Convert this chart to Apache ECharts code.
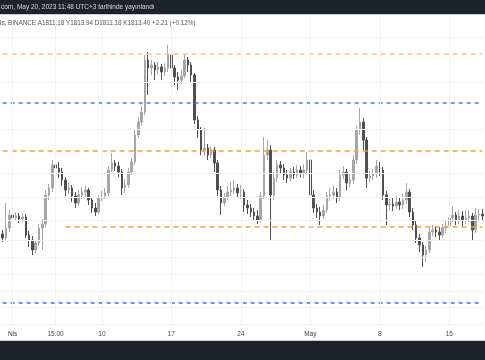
<!DOCTYPE html>
<html><head><meta charset="utf-8">
<script src="https://cdn.jsdelivr.net/npm/echarts@6/dist/echarts.min.js"></script>
<style>html,body{margin:0;padding:0;background:#fff}#c{width:485px;height:360px}</style>
</head><body><div id="c"></div>
<script>
// 8-hour candles starting 2023-03-31 00:00
const startTime = Date.UTC(2023, 2, 31, 0, 0);
const candleCount = 146;
const categories = [];
for (let i = 0; i < candleCount; i++) {
  const d = new Date(startTime + i * 8 * 3600e3);
  const p = n => String(n).padStart(2, '0');
  categories.push(p(d.getUTCMonth() + 1) + '-' + p(d.getUTCDate()) + ' ' + p(d.getUTCHours()) + ':00');
}
const tickDates = ['04-01 00:00','04-05 08:00','04-10 00:00','04-17 00:00','04-24 00:00','05-01 00:00','05-08 00:00','05-15 00:00'];
const tickTexts = ['Nis','15:00','10','17','24','May','8','15'];

const open = [1766,1758,1778,1804,1798,1802,1796,1800,1764,1754,
1734,1748,1778,1786,1844,1858,1904,1898,1890,1874,
1854,1858,1842,1828,1844,1850,1854,1834,1818,1810,
1838,1842,1848,1894,1908,1902,1890,1858,1864,1890,
1910,1964,1990,2010,2114,2098,2104,2094,2100,2090,
2098,2124,2098,2080,2074,2082,2114,2104,2084,1994,
1974,1934,1938,1924,1934,1908,1854,1828,1840,1850,
1854,1858,1848,1850,1824,1818,1810,1802,1794,1842,
1924,1934,1844,1878,1904,1898,1884,1878,1890,1884,
1894,1888,1894,1914,1844,1818,1810,1802,1814,1842,
1844,1850,1838,1884,1890,1868,1874,1914,1974,1990,
1954,1878,1882,1886,1902,1894,1844,1824,1826,1822,
1830,1824,1834,1850,1810,1784,1758,1744,1724,1734,
1770,1774,1770,1764,1778,1782,1798,1804,1794,1802,
1794,1798,1802,1774,1804,1806];
const close = [1758,1778,1804,1798,1802,1796,1800,1764,1754,1734,
1748,1778,1786,1844,1858,1904,1898,1890,1874,1854,
1858,1842,1828,1844,1850,1854,1834,1818,1810,1838,
1842,1848,1894,1908,1902,1890,1858,1864,1890,1910,
1964,1990,2010,2114,2098,2104,2094,2100,2090,2098,
2124,2098,2080,2074,2082,2114,2104,2084,1994,1974,
1934,1938,1924,1934,1908,1854,1828,1840,1850,1854,
1858,1848,1850,1824,1818,1810,1802,1794,1842,1924,
1934,1844,1878,1904,1898,1884,1878,1890,1884,1894,
1888,1894,1914,1844,1818,1810,1802,1814,1842,1844,
1850,1838,1884,1890,1868,1874,1914,1974,1990,1954,
1878,1882,1886,1902,1894,1844,1824,1826,1822,1830,
1824,1834,1850,1810,1784,1758,1744,1724,1734,1770,
1774,1770,1764,1778,1782,1798,1804,1794,1802,1794,
1798,1802,1774,1804,1806,1802];
const high = [1774,1828,1814,1812,1810,1808,1808,1806,1772,1762,
1754,1786,1796,1854,1866,1914,1934,1910,1898,1880,
1868,1864,1850,1854,1860,1862,1858,1840,1828,1844,
1852,1858,1902,1928,1914,1910,1896,1876,1898,1918,
1974,2000,2022,2124,2130,2114,2110,2110,2106,2108,
2144,2130,2104,2090,2094,2124,2120,2110,2088,2002,
1980,1978,1946,1942,1940,1914,1862,1848,1862,1870,
1874,1866,1864,1856,1834,1826,1818,1814,1850,1960,
1954,1944,1890,1914,1912,1906,1894,1898,1900,1904,
1902,1906,1930,1920,1854,1826,1820,1824,1850,1858,
1862,1858,1894,1902,1896,1886,1924,1984,2018,1998,
1960,1892,1896,1914,1910,1900,1852,1836,1838,1842,
1840,1846,1868,1856,1818,1792,1766,1750,1742,1778,
1784,1782,1780,1786,1792,1810,1822,1810,1814,1812,
1814,1814,1808,1818,1816,1816];
const low = [1750,1754,1770,1790,1792,1788,1790,1758,1740,1724,
1728,1742,1734,1780,1834,1850,1888,1878,1862,1842,
1846,1830,1818,1822,1836,1840,1824,1808,1802,1806,
1832,1836,1842,1890,1892,1880,1844,1848,1858,1884,
1904,1958,1982,2004,2044,2084,2074,2086,2074,2082,
2090,2090,2064,2054,2066,2078,2090,2070,1986,1958,
1924,1922,1914,1918,1890,1842,1804,1822,1834,1842,
1846,1838,1836,1810,1806,1800,1794,1786,1788,1836,
1914,1754,1834,1870,1886,1874,1868,1872,1876,1878,
1880,1878,1886,1834,1808,1798,1784,1796,1808,1832,
1836,1828,1832,1876,1854,1860,1866,1906,1964,1934,
1858,1870,1874,1878,1882,1834,1784,1814,1812,1816,
1814,1816,1826,1800,1774,1748,1730,1700,1710,1728,
1762,1760,1754,1758,1768,1774,1790,1784,1786,1782,
1786,1790,1754,1768,1794,1792];

const gridLevels = [2159,2069,1975,1887,1839,1793,1753,1719,1685,1651,1619,1585];
const levelLightOrange = 2126;
const levelBlueUpper = 2028;
const levelOrange = 1932;
const levelOrangeLower = 1780;
const levelOrangeLowerStart = '04-06 08:00';
const levelBlueLower = 1628;

const headerTop = 'com, May 20, 2023 11:48 UTC+3 tarihinde yayınlandı';
const headerInfo = 'ls, BINANCE A1811.18 Y1813.94 D1811.18 K1813.40 +2.21 (+0.12%)';

const ohlc = open.map((o, i) => [o, close[i], low[i], high[i]]);
const font = 'Liberation Sans, Arial, sans-serif';
const chart = echarts.init(document.getElementById('c'), null, {renderer: 'canvas'});
const gridColor = '#eff1f5';
const orange = '#f7a030', lightOrange = '#fbc27c', blue = '#4f74f7';
const firstCat = categories[0], lastCat = categories[candleCount - 1];

function levelLine(color, dash, fromCat, value) {
  return {
    type: 'line', z: 3, silent: true, symbol: 'none', showSymbol: false,
    color: color, itemStyle: {color: color},
    lineStyle: {color: color, type: dash, width: 1.6},
    data: [[fromCat, value], [lastCat, value]]
  };
}

chart.setOption({
  animation: false,
  backgroundColor: '#ffffff',
  grid: {left: 1, right: 1, top: 15, bottom: 34},
  xAxis: {
    type: 'category', data: categories, boundaryGap: true,
    axisLine: {show: false}, axisTick: {show: false},
    axisLabel: {
      interval: (idx, val) => tickDates.includes(val),
      formatter: val => tickTexts[tickDates.indexOf(val)] || '',
      fontSize: 6.5, color: '#444', margin: 5, fontFamily: font
    },
    splitLine: {show: false}
  },
  yAxis: {type: 'value', min: 1582, max: 2204, show: false, splitLine: {show: false}},
  graphic: [
    {type: 'rect', shape: {x: 0, y: 0, width: 485, height: 14}, style: {fill: '#1e222d'}},
    {type: 'rect', shape: {x: 0, y: 14, width: 485, height: 1}, style: {fill: '#c9ccd3'}},
    {type: 'text', x: 1, y: 7, style: {text: headerTop, fill: '#d6d8de', font: '6.5px ' + font, textVerticalAlign: 'middle'}},
    {type: 'text', x: 0, y: 23, style: {text: headerInfo, fill: '#555', font: '6.3px ' + font, textVerticalAlign: 'middle'}},
    {type: 'rect', shape: {x: 0, y: 340, width: 485, height: 1}, style: {fill: '#c9ccd3'}},
    {type: 'rect', shape: {x: 0, y: 341, width: 485, height: 19}, style: {fill: '#1e222d'}}
  ],
  series: [
    {
      type: 'line', data: [], z: 1, silent: true,
      markLine: {
        silent: true, symbol: 'none', label: {show: false}, animation: false,
        lineStyle: {color: gridColor, width: 1, type: 'solid'},
        data: gridLevels.map(v => ({yAxis: v})).concat(tickDates.map(d => ({xAxis: d})))
      }
    },
    {
      type: 'candlestick', data: ohlc, z: 2, barWidth: 2,
      itemStyle: {color: '#a6a6a6', color0: '#4f4f4f', borderColor: '#a6a6a6', borderColor0: '#4f4f4f', borderWidth: 1}
    },
    levelLine(lightOrange, [5, 4], firstCat, levelLightOrange),
    levelLine(blue, [4, 4], firstCat, levelBlueUpper),
    levelLine(orange, [5, 4], firstCat, levelOrange),
    levelLine(orange, [5, 4], levelOrangeLowerStart, levelOrangeLower),
    levelLine(blue, [4, 4], firstCat, levelBlueLower)
  ]
});
</script></body></html>
